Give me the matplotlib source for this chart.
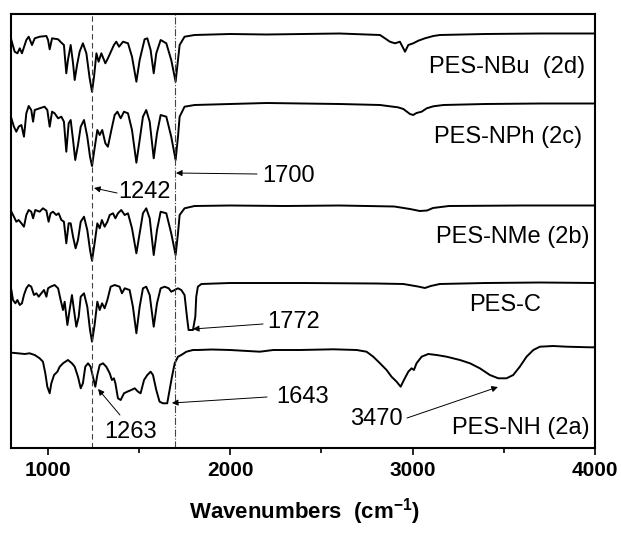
import numpy as np
import matplotlib
matplotlib.use("Agg")
import matplotlib.pyplot as plt

plt.rcParams['font.family'] = ['Liberation Sans', 'DejaVu Sans']
plt.rcParams['mathtext.default'] = 'regular'

# FTIR spectra, values are dips below each trace's baseline (a.u.)
nbu_wn = [802, 820, 835, 848, 860, 875, 884, 897, 915, 930, 957, 994, 1003, 1012, 1025, 1058,
          1076, 1090, 1103, 1112, 1127, 1140, 1149, 1162, 1176, 1194, 1213, 1231, 1244, 1255,
          1268, 1280, 1295, 1317, 1331, 1364, 1377, 1392, 1414, 1441, 1463, 1487, 1505, 1532,
          1547, 1565, 1582, 1596, 1620, 1651, 1678, 1702, 1715, 1724, 1751, 1806,
          2000, 2200, 2400, 2600, 2822, 2849, 2876, 2904, 2931, 2959, 2977, 3004, 3032, 3068,
          3114, 3150, 3400, 3700, 4000]
nbu_t = [-6, -17.7, -19.3, -14.3, -19.3, -11, -6, -2.7, -11, -4.3, -2.7, -2, -6, -15.3, -4.3, -5.3,
         -8.7, -11, -39.3, -26, -11, -29.3, -46, -31, -17.7, -9.3, -19.3, -44.3, -57.7, -42.7,
         -19.3, -27.7, -19.3, -29.3, -24.3, -11, -7.7, -12.7, -7.7, -9.3, -22.7, -47.7, -26, -5.3,
         -4.3, -16, -39.3, -19.3, -6, -9.3, -26, -47.7, -26, -11, -2.7, -1,
         0, -0.5, 0, 0.5, -1, -4.3, -7.7, -9.3, -7.7, -17.7, -11, -9.3, -6.7, -4.3,
         -2, -1, 0, 0.5, 0.5]

nph_wn = [802, 816, 829, 842, 857, 871, 884, 897, 911, 921, 930, 957, 984, 999, 1012, 1025,
          1039, 1058, 1076, 1090, 1103, 1116, 1127, 1140, 1152, 1167, 1182, 1200, 1218, 1233,
          1244, 1258, 1273, 1286, 1300, 1317, 1331, 1350, 1368, 1383, 1401, 1419, 1441, 1463,
          1487, 1505, 1523, 1541, 1560, 1582, 1600, 1620, 1651, 1678, 1702, 1715, 1724, 1751, 1806,
          2000, 2200, 2400, 2600, 2822, 2876, 2920, 2950, 2986, 3004, 3022, 3050, 3078, 3114,
          3170, 3400, 3700, 4000]
nph_t = [-14.3, -22.7, -27.7, -22.7, -21, -32.7, -9.3, -2, -6, -17.7, -6, -4.3, -2.7, -6, -22.7, -7.7,
         -9.3, -14.3, -12.7, -17.7, -47.7, -19.3, -16, -36, -56, -41, -22.7, -16, -32.7, -52.7,
         -62, -44.3, -26, -31, -26, -39.3, -42.7, -26, -11, -7.7, -14.3, -7.7, -9.3, -26,
         -58.7, -36, -12.7, -6, -17.7, -54.3, -29.3, -11, -12.7, -32.7, -56, -32.7, -12.7, -2.7, -1,
         0, 1, 0.5, 0, -1, -2.3, -3.3, -5, -10, -11, -9, -7.7, -4.3, -2.3,
         -1, 0, 0.5, 0.5]

nme_wn = [802, 816, 829, 842, 857, 871, 884, 897, 911, 921, 933, 957, 975, 994, 1006, 1017,
          1030, 1048, 1061, 1076, 1090, 1103, 1116, 1127, 1140, 1154, 1167, 1182, 1200, 1218,
          1233, 1244, 1258, 1273, 1286, 1298, 1313, 1328, 1341, 1359, 1372, 1386, 1404, 1423,
          1441, 1463, 1487, 1505, 1523, 1541, 1560, 1582, 1600, 1620, 1651, 1678, 1702, 1715,
          1724, 1751, 1806,
          2000, 2300, 2600, 2900, 2986, 3040, 3080, 3112, 3200, 3600, 4000]
nme_t = [-5.7, -10.7, -15.7, -14, -17.3, -20.7, -9, -4, -5.7, -12.3, -4, -5.7, -2.3, -4.7, -15.7, -7.3,
         -5.7, -9, -7.3, -14, -15.7, -37.3, -17.3, -17.3, -30.7, -42.3, -34, -15.7, -10.7, -24,
         -44, -54.7, -37.3, -17.3, -22.3, -14, -20.7, -15.7, -9, -7.3, -12.3, -7.3, -4, -9,
         -7.3, -22.3, -47.3, -27.3, -7.3, -2.3, -12.3, -49, -24, -5.7, -7.3, -27.3, -49, -27.3,
         -9, -2.3, 0,
         0.5, 0, 0.5, -0.5, -3, -5, -4.5, -2, 0, 0.5, 0.5]

pesc_wn = [802, 811, 824, 835, 848, 860, 871, 884, 897, 911, 926, 939, 952, 966, 981, 994,
           1003, 1017, 1039, 1058, 1072, 1085, 1094, 1109, 1121, 1134, 1145, 1158, 1171, 1182,
           1200, 1218, 1233, 1244, 1258, 1273, 1286, 1299, 1313, 1328, 1346, 1368, 1395, 1408,
           1423, 1450, 1468, 1487, 1505, 1523, 1541, 1560, 1582, 1600, 1620, 1642, 1664, 1678,
           1697, 1715, 1733, 1751, 1764, 1773, 1797, 1810, 1815, 1824, 1843,
           2000, 2400, 2800, 2950, 3030, 3068, 3100, 3150, 3400, 3700, 4000]
pesc_t = [-7, -17, -20.3, -17, -22, -20.3, -12, -5.3, -2, -3.7, -12, -10.3, -13.7, -10.3, -7, -13.7,
          -5.3, -3.7, -2, -5.3, -17, -27, -18.7, -42, -27, -12, -27, -43.7, -33.7, -13.7,
          -10.3, -23.7, -47, -58.7, -42, -18.7, -27, -20.3, -25.3, -17, -3.7, -2, -3.7, -10.3,
          -5.3, -7, -23.7, -50.3, -23.7, -5.3, -3.7, -12, -43.7, -20.3, -5.3, -3.7, -5.3, -8.7,
          -7, -5.3, -7, -12, -33.7, -47, -47, -33.7, -13.7, -3.7, -1,
          0, 0, -0.5, -1, -3.5, -5, -3, -1, 0, 0.5, 0]

nh_wn = [802, 838, 875, 902, 930, 957, 975, 988, 999, 1012, 1021, 1036, 1054, 1067, 1085, 1112,
         1134, 1149, 1167, 1182, 1194, 1207, 1222, 1236, 1249, 1262, 1273, 1286, 1304, 1322,
         1341, 1353, 1364, 1372, 1386, 1401, 1419, 1437, 1459, 1478, 1496, 1510, 1529, 1547,
         1565, 1578, 1596, 1614, 1633, 1656, 1669, 1682, 1697, 1715, 1733, 1761, 1797, 1824,
         1900, 2000, 2164, 2237, 2383, 2566, 2694, 2748, 2785, 2822, 2858, 2885, 2913, 2935,
         2953, 2977, 2995, 3008, 3022, 3050, 3086, 3132, 3187, 3260, 3315, 3369, 3424, 3470,
         3515, 3552, 3588, 3625, 3662, 3698, 3771, 3844, 3972, 4000]
nh_t = [-3.7, -4.3, -5, -4.3, -6, -9.3, -12.7, -24.3, -37.7, -44.3, -34.3, -26, -22.7, -17.7, -14.3, -11,
        -14.3, -17.7, -27.7, -39.3, -34.3, -17.7, -14.3, -17.7, -27.7, -37.7, -26, -16, -14.3, -17.7,
        -24.3, -31, -29.3, -34.3, -49.3, -51, -44.3, -42.7, -41, -39.3, -42.7, -44.3, -31, -26,
        -22.7, -26, -41, -52.7, -54.3, -54.3, -41, -27.7, -14.3, -7.7, -6, -2.7, -1, -1,
        -0.5, -1, -2.7, -1, -1, -0.3, -1, -2.7, -7.7, -14.3, -21, -27.7, -32.7, -37.7,
        -31, -22.7, -19.3, -21, -14.3, -7.7, -5, -6, -7.7, -11, -14.3, -19.3, -26, -29.3,
        -29.3, -26, -17.7, -7.7, -1, 2.3, 3, 2.3, 1.7, 1.7]

spectra = [(nbu_wn, nbu_t), (nph_wn, nph_t), (nme_wn, nme_t), (pesc_wn, pesc_t), (nh_wn, nh_t)]
offsets = [414, 344, 242, 165, 99]

fig = plt.figure(figsize=(6.21, 5.36), dpi=100)
ax = fig.add_axes([11 / 621, 88 / 536, 584 / 621, 434 / 536])

for (wn, t), off in zip(spectra, offsets):
    ax.plot(wn, np.array(t) + off, color='black', lw=1.4)

ax.axvline(1242, color='#444444', lw=0.8, ls=(0, (5, 3)))
ax.axvline(1700, color='#444444', lw=0.8, ls='-.')

fs = 17
# trace labels
ax.text(3945, 381, 'PES-NBu  (2d)', fontsize=fs, ha='right', va='center')
ax.text(3928, 311, 'PES-NPh (2c)', fontsize=fs, ha='right', va='center')
ax.text(3972, 211, 'PES-NMe (2b)', fontsize=fs, ha='right', va='center')
ax.text(3507, 143, 'PES-C', fontsize=fs, ha='center', va='center')
ax.text(3972, 20, 'PES-NH (2a)', fontsize=fs, ha='right', va='center')

# peak annotations: (label, arrow tip, arrow start, text centre)
peaks = [('1242', (1255, 260), (1381, 255), (1534, 256)),
         ('1700', (1704, 275), (2148, 274), (2323, 272)),
         ('1772', (1797, 119), (2181, 124), (2351, 126)),
         ('1643', (1682, 45), (2203, 51), (2400, 51)),
         ('1263', (1277, 59), (1397, 33), (1457, 16)),
         ('3470', (3468, 61), (2970, 30), (2800, 29))]
for lab, tip, start, pos in peaks:
    ax.annotate('', xy=tip, xytext=start,
                arrowprops=dict(arrowstyle='-|>', color='black', lw=0.7,
                                mutation_scale=9, shrinkA=0, shrinkB=0))
    ax.text(pos[0], pos[1], lab, fontsize=fs, ha='center', va='center')

ax.set_xlim(800, 4000)
ax.set_ylim(0, 434)
ax.set_yticks([])
ax.set_xticks([1000, 2000, 3000, 4000])
ax.set_xticks([1500, 2500, 3500], minor=True)
ax.tick_params(axis='x', which='major', length=5, width=1.2, direction='out', labelsize=15, pad=4)
ax.tick_params(axis='x', which='minor', length=3.5, width=1.2, direction='out')
for lbl in ax.get_xticklabels():
    lbl.set_fontweight('bold')
for sp in ax.spines.values():
    sp.set_linewidth(1.5)

fig.text(0.49, 0.045, 'Wavenumbers  (cm$^{-1}$)', fontsize=16, fontweight='bold',
         ha='center', va='center')

fig.savefig('out.png', dpi=100)
